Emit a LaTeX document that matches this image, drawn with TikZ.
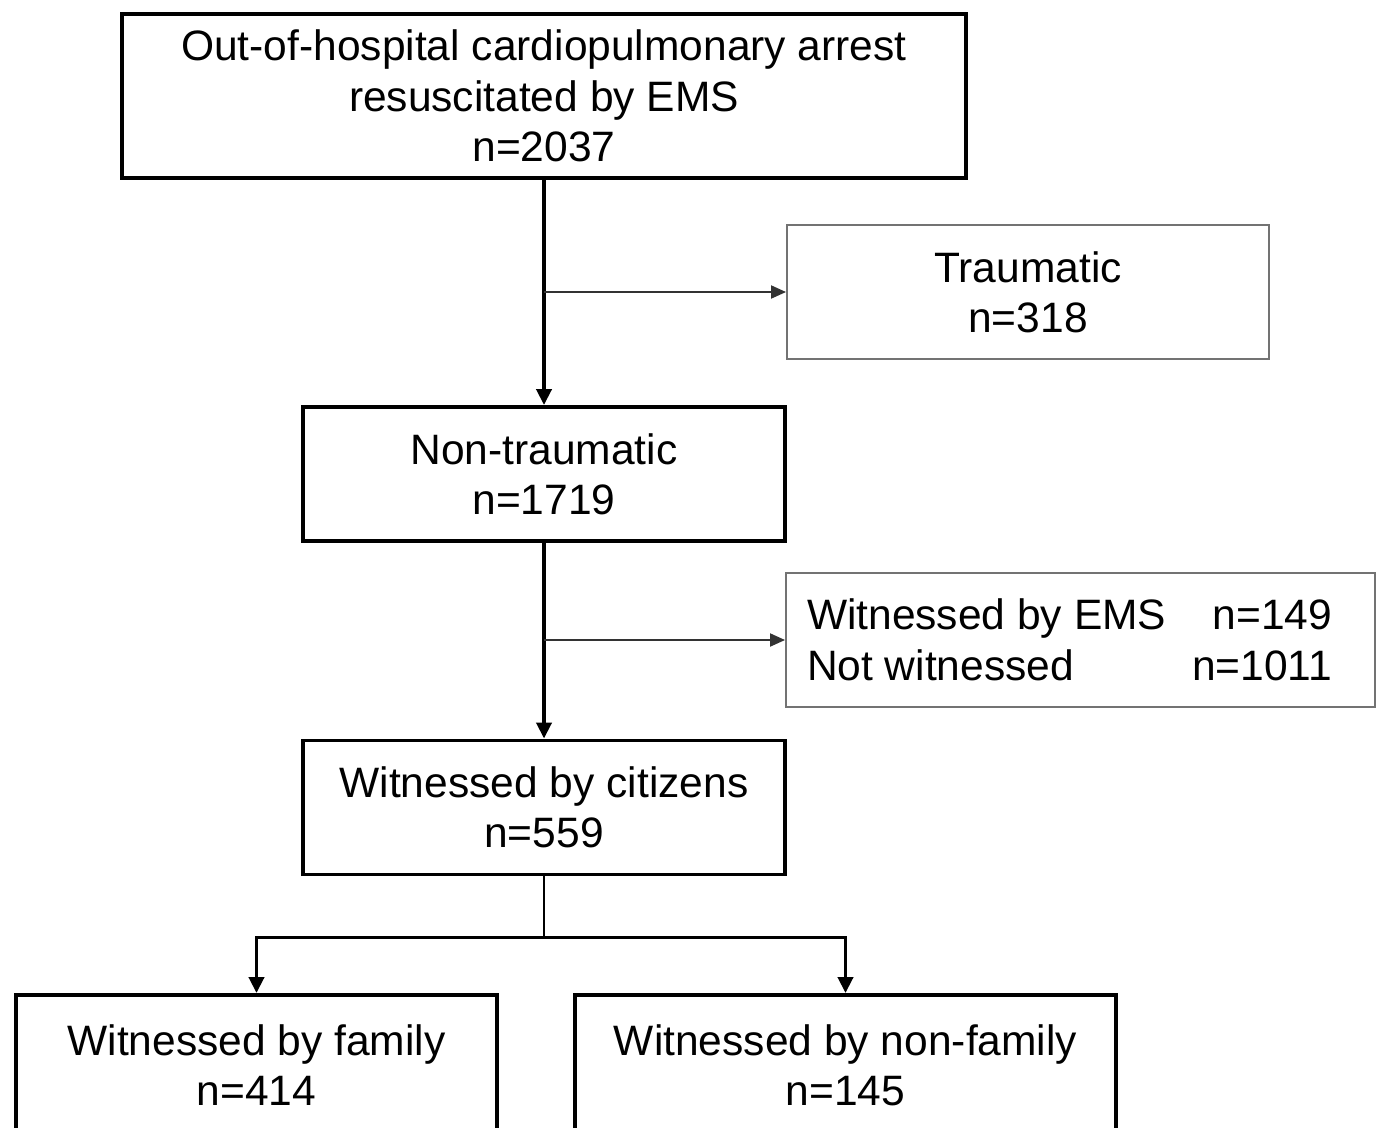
\documentclass[tikz,border=0pt]{standalone}
\usepackage{fontspec}
\setmainfont{Liberation Sans}
\usepackage{tikz}
\usetikzlibrary{arrows.meta, positioning, calc}

\begin{document}
\begin{tikzpicture}[
  font=\fontsize{24.2}{28.6}\selectfont,
  box/.style={draw=black, line width=2.2pt, minimum width=9.64cm, minimum height=2.68cm, align=center, inner sep=0pt},
  side/.style={draw=black!55, line width=1.1pt, minimum width=9.64cm, minimum height=2.68cm, align=center, inner sep=0pt},
  main/.style={line width=2.2pt, -{Triangle[length=0.32cm, width=0.3cm]}},
  branch/.style={draw=black!80, line width=1.1pt, -{Triangle[length=0.3cm, width=0.26cm]}}
]
  \useasboundingbox (0,0) rectangle (27.62,-22.54);
  \clip (0,0) rectangle (27.62,-22.54);

  \node[box, minimum width=16.88cm, minimum height=3.28cm] (ohca) at (10.88,-1.92) {Out-of-hospital cardiopulmonary arrest\\resuscitated by EMS\\n=2037};
  \node[side] (trauma) at (20.56,-5.84) {Traumatic\\n=318};
  \node[box] (nontrauma) at (10.88,-9.48) {Non-traumatic\\n=1719};
  \node[side, minimum width=11.78cm] (excl) at (21.61,-12.8) {%
    \begin{tabular*}{11.78cm}{@{\hspace{0.42cm}}l@{\extracolsep{\fill}}r@{\hspace{0.86cm}}}
      \rule{0pt}{0.9cm}Witnessed by EMS & n=149\\[0pt]
      Not witnessed & n=1011
    \end{tabular*}};
  \node[box] (citizen) at (10.88,-16.15) {Witnessed by citizens\\n=559};
  \node[box, minimum width=9.62cm, minimum height=2.8cm] (family) at (5.13,-21.3) {Witnessed by family\\n=414};
  \node[box, minimum width=10.82cm, minimum height=2.8cm] (nonfamily) at (16.91,-21.3) {Witnessed by non-family\\n=145};

  \draw[main] (ohca.south) -- (nontrauma.north);
  \draw[branch] (ohca.south |- trauma.west) -- (trauma.west);
  \draw[main] (nontrauma.south) -- (citizen.north);
  \draw[branch] (nontrauma.south |- excl.west) -- (excl.west);

  \coordinate (split) at ($(citizen.south)+(0,-1.22)$);
  \draw[line width=1.6pt] (citizen.south) -- (split);
  \draw[main] (split) -| (family.north);
  \draw[main] (split) -| (nonfamily.north);
\end{tikzpicture}
\end{document}
